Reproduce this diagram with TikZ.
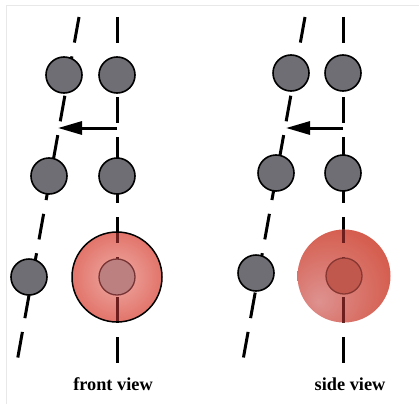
\documentclass[tikz,border=0pt]{standalone}
\usepackage{fontspec}
\setmainfont{Liberation Serif}
\usetikzlibrary{arrows.meta}
\definecolor{ballgray}{RGB}{110,110,116}
\definecolor{framecol}{RGB}{232,232,232}
\definecolor{frontin}{RGB}{238,172,166}
\definecolor{frontout}{RGB}{226,116,106}
\definecolor{sidein}{RGB}{222,146,144}
\definecolor{sideout}{RGB}{212,88,72}
\definecolor{frontcore}{RGB}{188,128,128}
\definecolor{frontcoreedge}{RGB}{120,52,52}
\definecolor{sidecore}{RGB}{192,88,78}
\definecolor{sidecoreedge}{RGB}{135,55,50}
\definecolor{inlane}{RGB}{110,30,28}
\pgfdeclareradialshading{frontball}{\pgfpoint{0bp}{0bp}}{color(0bp)=(frontin); color(25bp)=(frontout); color(50bp)=(frontout)}
\pgfdeclareradialshading{sideball}{\pgfpoint{-14bp}{-14bp}}{color(0bp)=(sidein); color(36bp)=(sideout); color(60bp)=(sideout)}
\tikzset{
  lane/.style={line width=3pt, dash pattern=on 26pt off 14pt, line cap=butt},
  ball/.style={circle, draw=black, line width=1.6pt, fill=ballgray, minimum size=36pt, inner sep=0pt},
  bigfront/.style={circle, draw=black, line width=1.5pt, shade, shading=frontball, minimum size=90pt, inner sep=0pt},
  bigside/.style={circle, shade, shading=sideball, minimum size=93pt, inner sep=0pt},
  corefront/.style={circle, draw=frontcoreedge, line width=1.3pt, fill=frontcore, minimum size=36pt, inner sep=0pt},
  coreside/.style={circle, draw=sidecoreedge, line width=1.3pt, fill=sidecore, minimum size=36pt, inner sep=0pt},
  pusharrow/.style={line width=3pt, -{Triangle[length=24pt,width=13pt]}},
  caption/.style={anchor=base, font=\bfseries\fontsize{18.3}{20}\selectfont, inner sep=0pt}
}
\begin{document}
\begin{tikzpicture}[x=1pt,y=-1pt]
\useasboundingbox (0,0) rectangle (419,404);
\draw[framecol, line width=0.8pt] (6,404) -- (6,5) -- (419,5);
% line end points
\coordinate (L1t) at (79,17);  \coordinate (L1b) at (17,362);
\coordinate (R1t) at (117,17); \coordinate (R1b) at (117,363);
\coordinate (L2t) at (305,17); \coordinate (L2b) at (243,360);
\coordinate (R2t) at (343,17); \coordinate (R2b) at (343,363);
\draw[lane] (L1t) -- (L1b);
\draw[lane] (R1t) -- (R1b);
\draw[lane] (L2t) -- (L2b);
\draw[lane] (R2t) -- (R2b);
% big spheres
\node[bigfront] (F) at (117,277) {};
\begin{scope}
  \clip (117,277) circle[radius=44];
  \draw[lane, inlane] (R1t) -- (R1b);
\end{scope}
\node[bigside] (S) at (344,276) {};
\begin{scope}
  \clip (344,276) circle[radius=46.5];
  \draw[lane, inlane] (R2t) -- (R2b);
\end{scope}
\node[corefront] (Fc) at (117,277) {};
\node[coreside] (Sc) at (344,276) {};
% gray balls, front view
\node[ball] (fa1) at (64,75) {};
\node[ball] (fb1) at (117,75) {};
\node[ball] (fa2) at (49,176) {};
\node[ball] (fb2) at (117,176) {};
\node[ball] (fa3) at (29,277) {};
% gray balls, side view
\node[ball] (sa1) at (291,73) {};
\node[ball] (sb1) at (343,73) {};
\node[ball] (sa2) at (276,173) {};
\node[ball] (sb2) at (343,173) {};
\node[ball] (sa3) at (256,273) {};
% arrows
\coordinate (A1s) at (117,128); \coordinate (A1e) at (58,128);
\coordinate (A2s) at (343,128); \coordinate (A2e) at (286,128);
\draw[pusharrow] (A1s) -- (A1e);
\draw[pusharrow] (A2s) -- (A2e);
% captions
\node[caption] (t1) at (113,390) {front view};
\node[caption] (t2) at (350,390) {side view};
\end{tikzpicture}
\end{document}
